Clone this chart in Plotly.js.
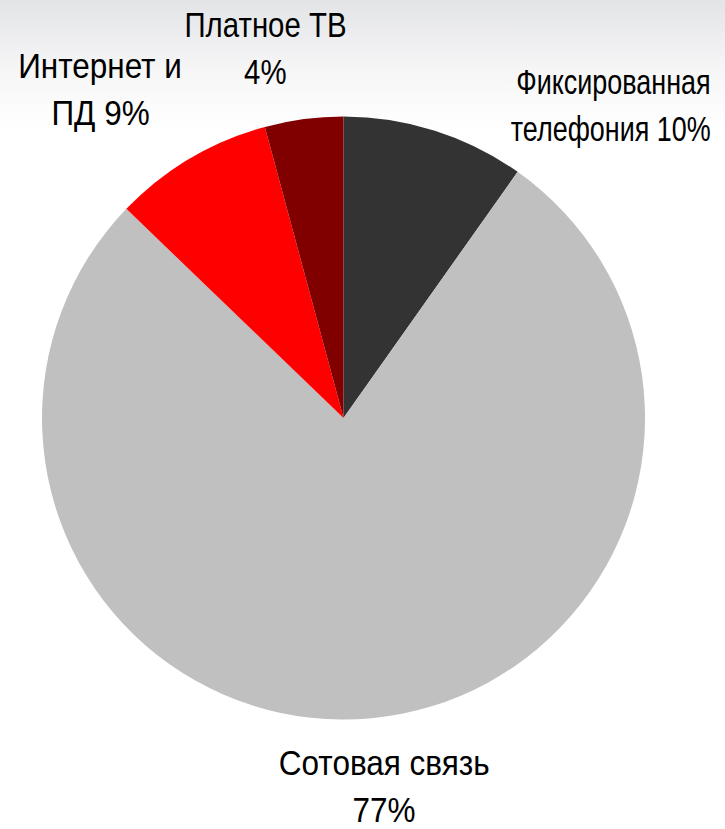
<!DOCTYPE html>
<html>
<head>
<meta charset="utf-8">
<script src="https://cdn.plot.ly/plotly-3.0.1.min.js"></script>
<style>
    html, body{
        margin:0;
        padding:0;
        background:linear-gradient(to bottom, #e3e4e6 0px, #f6f6f7 70px, #ffffff 130px, #ffffff 100%);
    }
    #chart{
        width:725px;
        height:829px;
    }
</style>
</head>
<body>
<div id="chart"></div>
<script>

/* ==========================================
   DATA
========================================== */

const segments = ["Фиксированная телефония", "Сотовая связь", "Интернет и ПД", "Платное ТВ"];

const shares = [9.8, 77.4, 8.6, 4.2];

const sliceColors = ["#333333", "#c0c0c0", "#ff0000", "#800000"];

// label lines as they are split in the picture
const labelLines = [
    ["Фиксированная", "телефония 10%"],
    ["Сотовая связь", "77%"],
    ["Интернет и", "ПД 9%"],
    ["Платное ТВ", "4%"]
];


/* ==========================================
   LABELS
========================================== */

const FONT = "'Liberation Sans Narrow', 'Arial Narrow', 'Liberation Sans', sans-serif";

// pixel anchor of each label block: x, y of first line, alignment,
// and how much to squeeze the glyphs (the original font is condensed)
const labelPlace = [
    {x:713, y:82, anchor:"right", squeeze:0.77},
    {x:384, y:762, anchor:"center", squeeze:0.9},
    {x:100, y:66, anchor:"center", squeeze:0.9},
    {x:265, y:25, anchor:"center", squeeze:0.84}
];

const LINE_GAP = 47;

let annotations = [];

let squeezes = [];

labelLines.forEach((lines, i)=>{

    const p = labelPlace[i];

    lines.forEach((line, j)=>{

        annotations.push({
            text:line,
            xref:"paper",
            yref:"paper",
            x:p.x / 725,
            y:1 - (p.y + j * LINE_GAP) / 829,
            xanchor:p.anchor,
            yanchor:"middle",
            align:p.anchor,
            showarrow:false,
            font:{
                family:FONT,
                size:35,
                color:"#000000"
            }
        });

        squeezes.push({scale:p.squeeze, anchor:p.anchor});

    });

});


/* ==========================================
   PIE
========================================== */

Plotly.newPlot(

    "chart",

    [
        {
            type:"pie",
            labels:segments,
            values:shares,
            sort:false,
            direction:"clockwise",
            rotation:0,
            textinfo:"none",
            hoverinfo:"label+percent",
            marker:{
                colors:sliceColors,
                line:{
                    width:0
                }
            },
            domain:{
                x:[42 / 725, 645 / 725],
                y:[1 - 720 / 829, 1 - 116 / 829]
            }
        }
    ],

    {
        width:725,
        height:829,
        margin:{l:0, r:0, t:0, b:0},
        showlegend:false,
        paper_bgcolor:"rgba(0,0,0,0)",
        plot_bgcolor:"rgba(0,0,0,0)",
        annotations:annotations
    },

    {
        displayModeBar:false
    }

).then(gd=>{

    gd.querySelectorAll(".annotation").forEach(a=>{

        const idx = Number(a.getAttribute("data-index"));

        const s = squeezes[idx];

        const t = a.querySelector(".annotation-text");

        if(!s || !t) return;

        t.style.transformBox = "fill-box";
        t.style.transformOrigin = s.anchor + " center";
        t.style.transform = "scaleX(" + s.scale + ")";

    });

});

</script>
</body>
</html>
